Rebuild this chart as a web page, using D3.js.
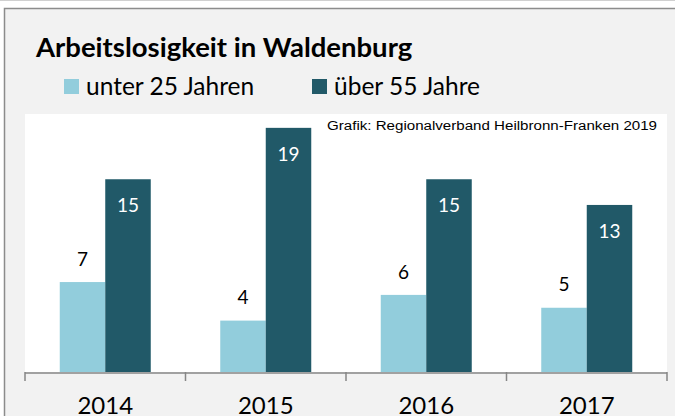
<!DOCTYPE html>
<html>
<head>
<meta charset="utf-8">
<title>Arbeitslosigkeit in Waldenburg</title>
<script src="https://d3js.org/d3.v7.min.js"></script>
<style>
  body { margin: 0; background: #fff; }
  svg { display: block; }
</style>
</head>
<body>
<div id="output"></div>
<script>
    var years = ["2014", "2015", "2016", "2017"];
    var seriesNames = ["unter 25 Jahren", "über 55 Jahre"];
    var under25 = [7, 4, 6, 5];
    var over55 = [15, 19, 15, 13];
    var colors = ["#92CDDC", "#215968"];

    var w = 675, h = 416;
    var plot = {left: 25, right: 667, top: 114, bottom: 372};

    var svg = d3.select("#output").append("svg")
        .attr("width", w)
        .attr("height", h);

    // frame
    svg.append("rect").attr("width", w).attr("height", h).attr("fill", "#fff");
    svg.append("line").attr("x1", 0).attr("x2", w).attr("y1", 0.5).attr("y2", 0.5)
        .attr("stroke", "#d0d0d0");
    svg.append("rect")
        .attr("x", 4.5).attr("y", 8.5).attr("width", 700).attr("height", 500)
        .attr("fill", "#f2f2f2").attr("stroke", "#8c8c8c").attr("stroke-width", 1.5);

    // plot area
    svg.append("rect")
        .attr("x", plot.left).attr("y", plot.top)
        .attr("width", plot.right - plot.left).attr("height", plot.bottom - plot.top)
        .attr("fill", "#fff");

    var x = d3.scaleBand().domain(years).range([plot.left, plot.right]).paddingInner(0).paddingOuter(0);
    var x1 = d3.scaleBand().domain([0, 1]).range([0, 91]);
    var y = d3.scaleLinear().domain([0, 20]).range([plot.bottom, plot.top + 1]);

    var data = years.map(function(yr, i) { return {year: yr, vals: [under25[i], over55[i]]}; });

    var groups = svg.selectAll(".grp").data(data).enter().append("g")
        .attr("class", "grp")
        .attr("transform", function(d) { return "translate(" + (x(d.year) + (x.bandwidth() - 91) / 2) + ",0)"; });

    groups.selectAll("rect").data(function(d) { return d.vals; }).enter().append("rect")
        .attr("x", function(d, i) { return x1(i); })
        .attr("width", x1.bandwidth())
        .attr("y", function(d) { return y(d); })
        .attr("height", function(d) { return plot.bottom - y(d); })
        .attr("fill", function(d, i) { return colors[i]; });

    // value labels: light series outside end, dark series inside end
    groups.selectAll("text").data(function(d) { return d.vals; }).enter().append("text")
        .attr("x", function(d, i) { return x1(i) + x1.bandwidth() / 2; })
        .attr("y", function(d, i) { return i === 0 ? y(d) - 23 : y(d) + 26; })
        .attr("dy", "0.35em")
        .attr("text-anchor", "middle")
        .attr("font-family", "Lato, 'Open Sans', sans-serif")
        .attr("font-size", 19)
        .attr("fill", function(d, i) { return i === 0 ? "#000" : "#fff"; })
        .text(function(d) { return d; });

    // x axis
    var xAxis = svg.append("g").attr("class", "axis");
    xAxis.append("line")
        .attr("x1", plot.left).attr("x2", plot.right)
        .attr("y1", plot.bottom + 1).attr("y2", plot.bottom + 1)
        .attr("stroke", "#868686").attr("stroke-width", 1.5);
    var tickPos = years.map(function(d) { return x(d); }).concat([plot.right]);
    xAxis.selectAll(".tick").data(tickPos).enter().append("line")
        .attr("x1", function(d) { return d; }).attr("x2", function(d) { return d; })
        .attr("y1", plot.bottom).attr("y2", plot.bottom + 9)
        .attr("stroke", "#868686").attr("stroke-width", 1.5);
    xAxis.selectAll(".lbl").data(years).enter().append("text")
        .attr("x", function(d) { return x(d) + x.bandwidth() / 2; })
        .attr("y", 414)
        .attr("text-anchor", "middle")
        .attr("font-family", "Lato, 'Open Sans', sans-serif")
        .attr("font-size", 24)
        .attr("fill", "#000")
        .text(function(d) { return d; });

    // title
    svg.append("text")
        .attr("x", 36).attr("y", 57)
        .attr("font-family", "Lato, 'Open Sans', sans-serif")
        .attr("font-weight", "bold")
        .attr("font-size", 27.5)
        .attr("fill", "#000")
        .text("Arbeitslosigkeit in Waldenburg");

    // legend
    var legX = [64, 312];
    var leg = svg.selectAll(".leg").data(seriesNames).enter().append("g")
        .attr("class", "leg")
        .attr("transform", function(d, i) { return "translate(" + legX[i] + ",79)"; });
    leg.append("rect").attr("width", 15).attr("height", 15)
        .attr("fill", function(d, i) { return colors[i]; });
    leg.append("text")
        .attr("x", 22).attr("y", 16)
        .attr("font-family", "Lato, 'Open Sans', sans-serif")
        .attr("font-size", 24.5)
        .attr("fill", "#000")
        .text(function(d) { return d; });

    // source note
    svg.append("text")
        .attr("x", 327).attr("y", 130)
        .attr("font-family", "'Liberation Sans', Arial, sans-serif")
        .attr("font-size", 12.5)
        .attr("textLength", 330)
        .attr("lengthAdjust", "spacingAndGlyphs")
        .attr("fill", "#000")
        .text("Grafik: Regionalverband Heilbronn-Franken 2019");
</script>
</body>
</html>
